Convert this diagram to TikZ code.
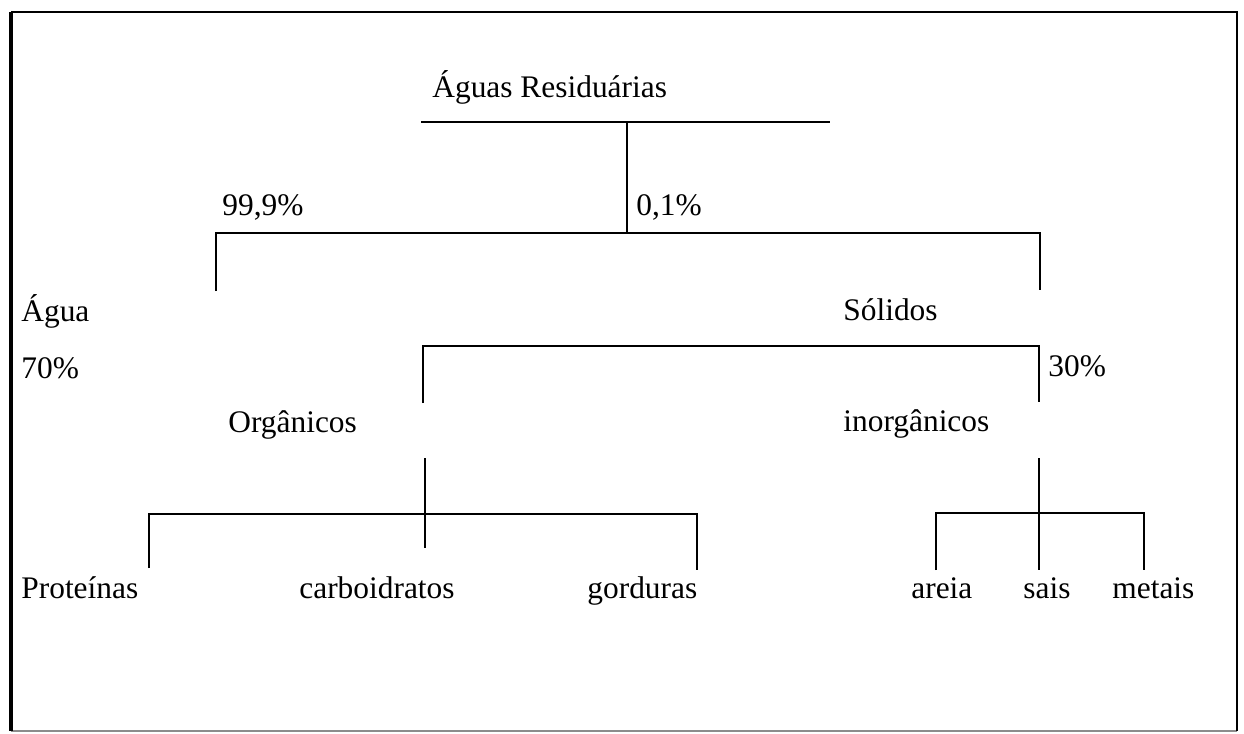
\documentclass[tikz,border=0pt]{standalone}
\usepackage{fontspec}
\setmainfont{Liberation Serif}
\tikzset{
	lbl/.style={anchor=base west, inner sep=0pt, font=\fontsize{15.7}{19}\selectfont},
	ln/.style={line width=1pt}
}

\begin{document}
\begin{tikzpicture}[x=0.5pt, y=-0.5pt]
			%%%%% START %%%%%
			\useasboundingbox (0, 0) rectangle (1244, 734);
			
			% frame
			\draw[line width=0.6pt, color=black!45] (11, 731) -- (1237, 731);
			\draw[line width=1.2pt] (11, 12) -- (1237, 12) -- (1237, 731);
			\draw[line width=2pt] (11, 12) -- (11, 731);
			
			% texts
			\node[lbl] (aguas) at (432, 97) {Águas Residuárias};
			\node[lbl] (p999) at (222, 215) {99,9\%};
			\node[lbl] (p01) at (636, 215) {0,1\%};
			\node[lbl] (agua) at (21, 321) {Água};
			\node[lbl] (p70) at (21, 378) {70\%};
			\node[lbl] (solidos) at (843, 320) {Sólidos};
			\node[lbl] (p30) at (1048, 376) {30\%};
			\node[lbl] (org) at (228, 432) {Orgânicos};
			\node[lbl] (inorg) at (843, 431) {inorgânicos};
			\node[lbl] (prot) at (21, 598) {Proteínas};
			\node[lbl] (carb) at (299, 598) {carboidratos};
			\node[lbl] (gord) at (587, 598) {gorduras};
			\node[lbl] (areia) at (911, 598) {areia};
			\node[lbl] (sais) at (1023, 598) {sais};
			\node[lbl] (metais) at (1112, 598) {metais};
			
			% branch points
			\coordinate (topL) at (421, 122);
			\coordinate (topR) at (830, 122);
			\coordinate (topJ) at (627, 122);
			\coordinate (splitJ) at (627, 233);
			\coordinate (aguaEnd) at (216, 291);
			\coordinate (solEnd) at (1040, 290);
			\coordinate (orgEnd) at (423, 403);
			\coordinate (inorgEnd) at (1039, 402);
			\coordinate (orgTop) at (425, 458);
			\coordinate (orgJ) at (425, 514);
			\coordinate (orgMid) at (425, 548);
			\coordinate (protEnd) at (149, 568);
			\coordinate (gordEnd) at (697, 570);
			\coordinate (inorgTop) at (1039, 458);
			\coordinate (inorgJ) at (1039, 513);
			\coordinate (saisEnd) at (1039, 570);
			\coordinate (areiaEnd) at (936, 570);
			\coordinate (metaisEnd) at (1144, 570);
			
			% lines
			\draw[ln] (topL) -- (topR);
			\draw[ln] (topJ) -- (splitJ);
			\draw[ln] (aguaEnd) |- (splitJ) -| (solEnd);
			\draw[ln] (orgEnd) |- (1039, 346) -- (inorgEnd);
			\draw[ln] (orgTop) -- (orgMid);
			\draw[ln] (protEnd) |- (orgJ) -| (gordEnd);
			\draw[ln] (inorgTop) -- (saisEnd);
			\draw[ln] (areiaEnd) |- (inorgJ) -| (metaisEnd);
			
			%%%%% END %%%%%
\end{tikzpicture}
\end{document}
